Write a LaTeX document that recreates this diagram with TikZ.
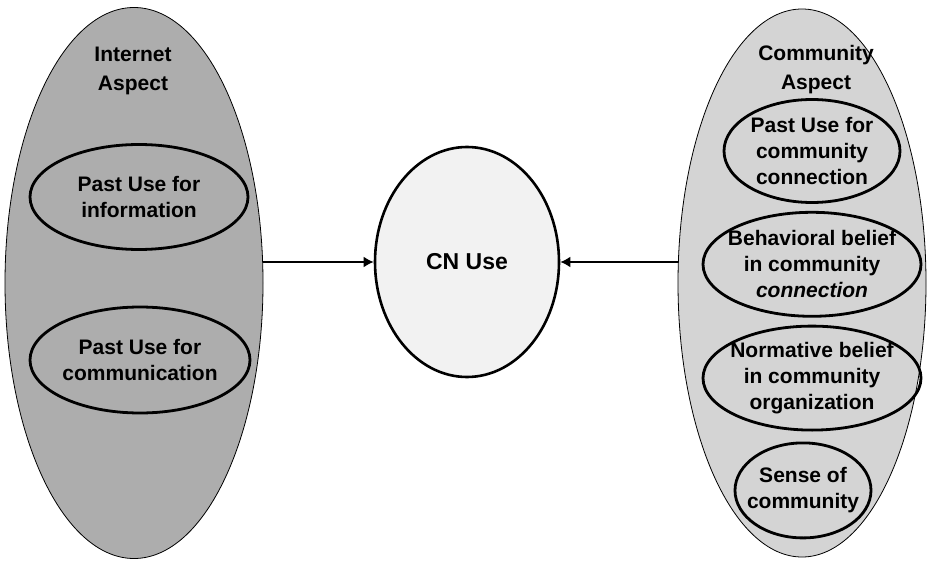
\documentclass[tikz,border=0pt]{standalone}
\usepackage{fontspec}
\setmainfont{Liberation Sans}
\usetikzlibrary{positioning,shapes.geometric,arrows.meta}

\begin{document}
\begin{tikzpicture}[x=1pt,y=-1pt,
		aspect/.style={ellipse,draw=black,line width=0.8pt,inner sep=0pt},
		factor/.style={ellipse,draw=black,line width=2.8pt,align=center,inner xsep=-12pt,inner ysep=-2pt,font=\fontsize{21}{26}\selectfont\bfseries},
		heading/.style={align=center,font=\fontsize{21}{29}\selectfont\bfseries},
		link/.style={-{Latex[length=10pt,width=11pt]},line width=2.6pt}]
		\useasboundingbox (0,0) rectangle (928,561);
		% internet side
		\node[aspect,fill=black!32,minimum width=258pt,minimum height=551pt] (inet) at (134,283) {};
		\node[heading] (inettitle) at (133,71) {Internet\\Aspect};
		\node[factor,minimum width=218pt,minimum height=105pt] (info) at (139,197) {Past Use for\\information};
		\node[factor,minimum width=220pt,minimum height=106pt] (comm) at (140,360) {Past Use for\\communication};
		
		% community side
		\node[aspect,fill=black!17,minimum width=248pt,minimum height=548pt] (comty) at (802,283) {};
		\node[heading] (comtytitle) at (816,70) {Community\\Aspect};
		\node[factor,minimum width=176pt,minimum height=103pt] (pastcomm) at (812,151) {Past Use for\\community\\connection};
		\node[factor,minimum width=218pt,minimum height=104pt,below=7pt of pastcomm] (behav) {Behavioral belief\\in community\\\itshape connection};
		\node[factor,minimum width=218pt,minimum height=104pt,below=7pt of behav] (norm) {Normative belief\\in community\\organization};
		\node[factor,minimum width=136pt,minimum height=95pt,below=10pt of norm,xshift=-9pt] (sense) {Sense of\\community};
		
		% CN use
		\node[ellipse,draw=black,line width=2.6pt,fill=black!5,minimum width=184pt,minimum height=230pt,font=\fontsize{23}{28}\selectfont\bfseries] (cn) at (467,262) {CN Use};
		\draw[link] (cn.west -| inet.east)--(cn.west);
		\draw[link] (cn.east -| comty.west)--(cn.east);
	\end{tikzpicture}
\end{document}
